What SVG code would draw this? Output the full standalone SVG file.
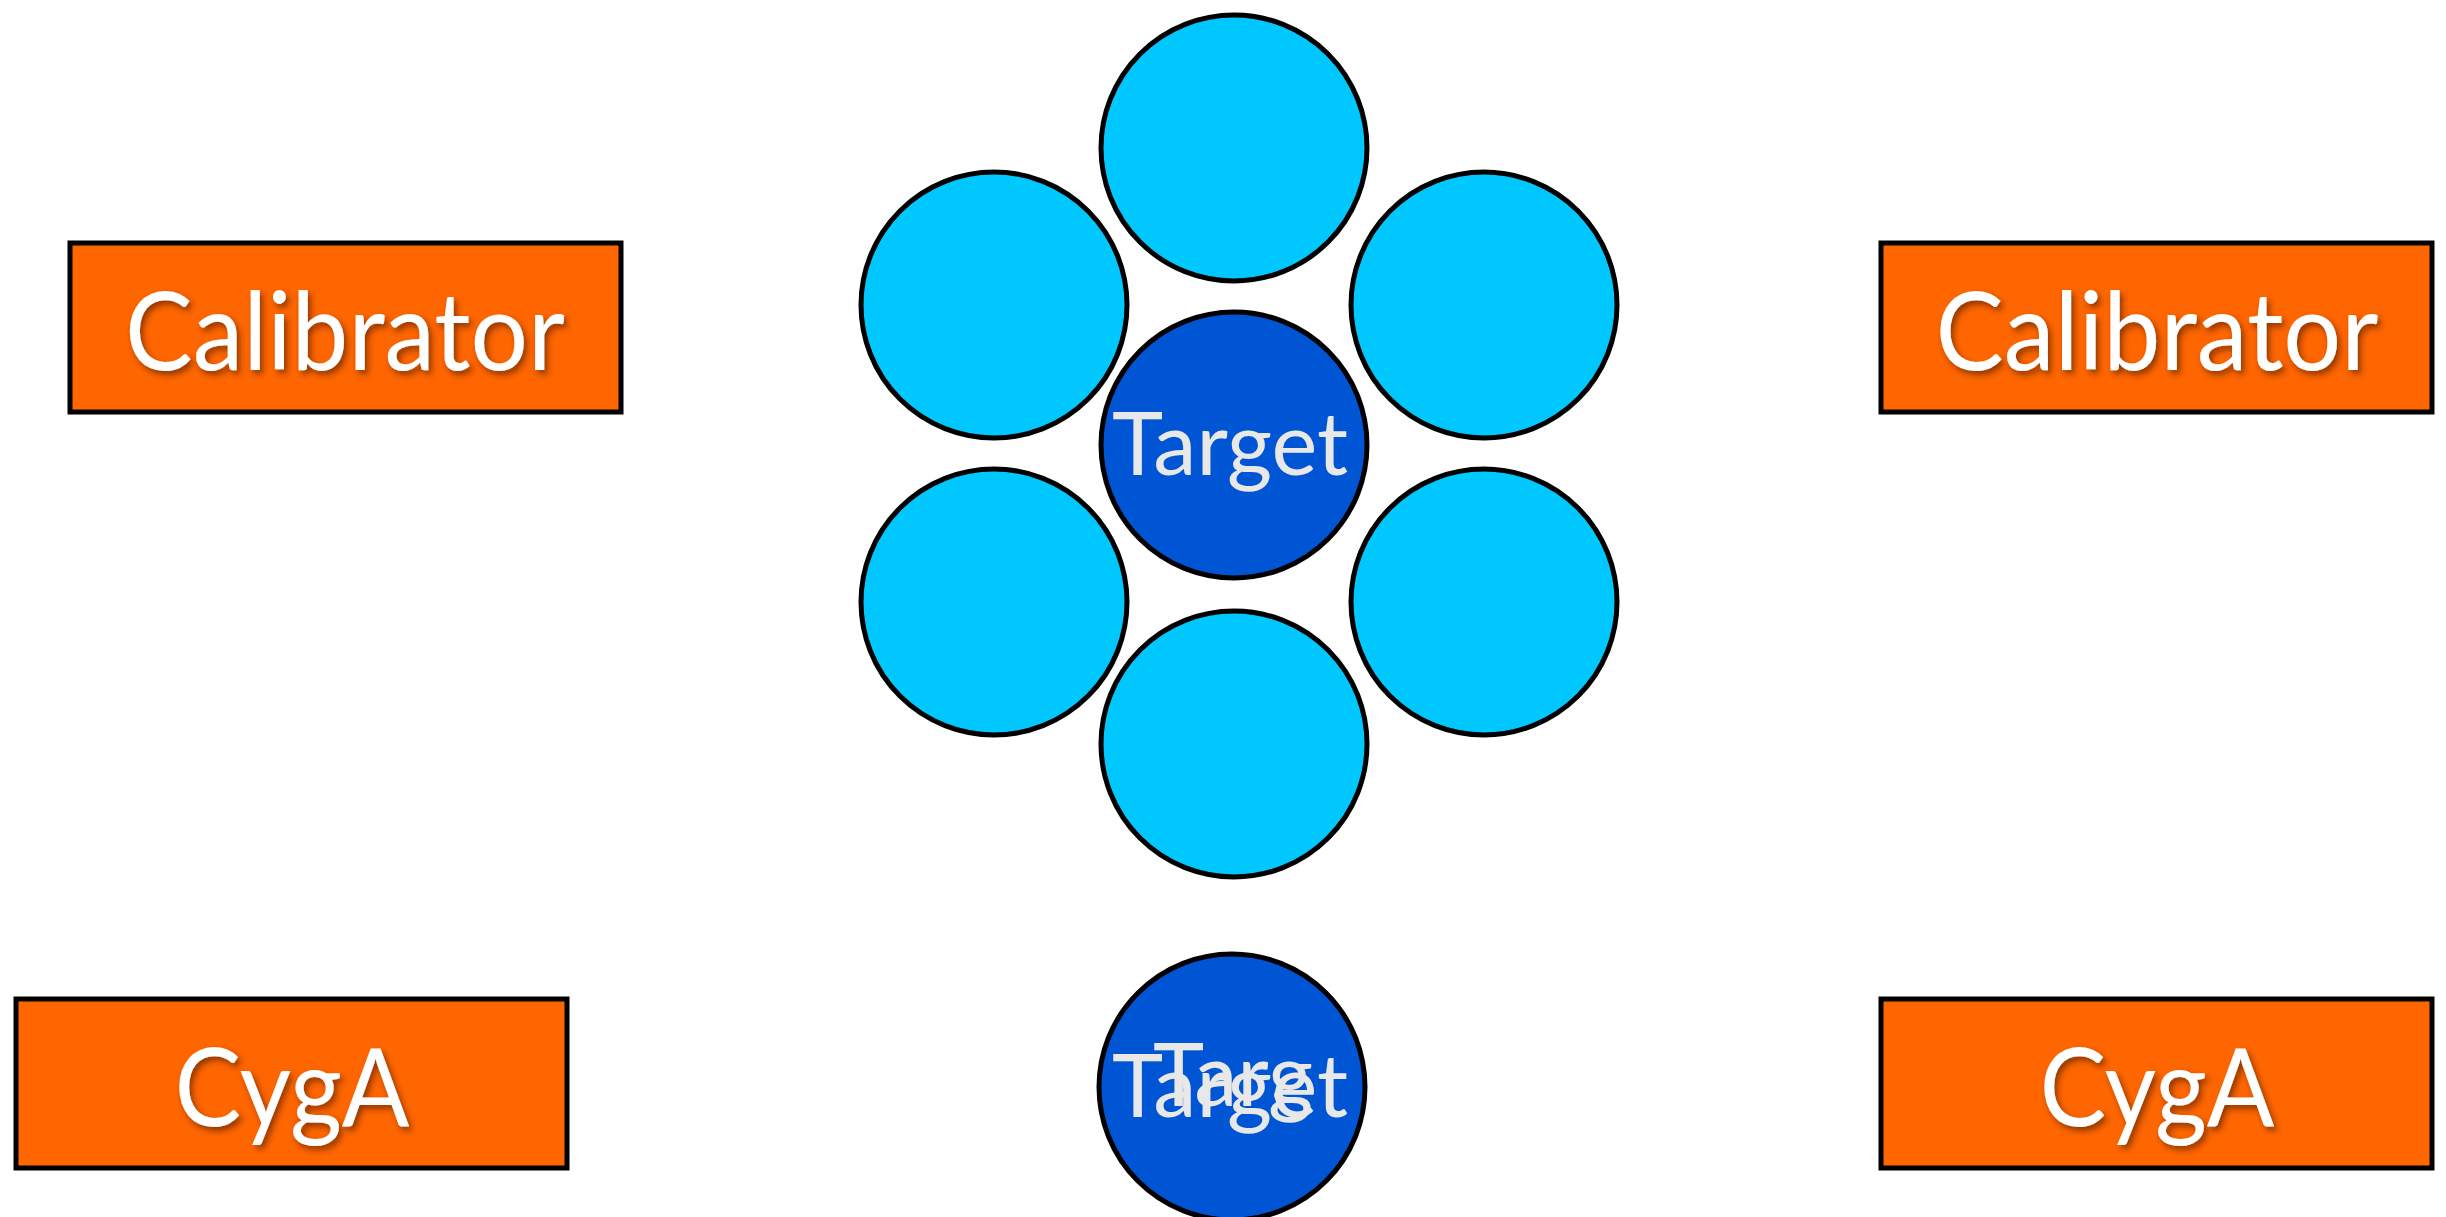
<svg xmlns="http://www.w3.org/2000/svg" width="2446" height="1217" viewBox="0 0 2446 1217">
<defs>
<filter id="sh" x="-10%" y="-20%" width="120%" height="150%">
<feDropShadow dx="3" dy="4" stdDeviation="3" flood-color="#602000" flood-opacity="0.7"/>
</filter>
</defs>
<style>
.box{fill:#FF6600;stroke:#000;stroke-width:5}
.lt{fill:#00C8FF;stroke:#000;stroke-width:5}
.dk{fill:#0055D4;stroke:#000;stroke-width:5}
.bt{font-family:Lato,"Open Sans","Liberation Sans",sans-serif;font-size:108px;fill:#fff;text-anchor:middle;filter:url(#sh)}
.tt{font-family:Lato,"Open Sans","Liberation Sans",sans-serif;font-size:88px;fill:#E8E8E8}
</style>
<rect width="2446" height="1217" fill="#fff"/>
<g id="connectors"></g>
<g id="cal-left"><rect class="box" x="70" y="243" width="551" height="169"/><text class="bt" x="345" y="370" textLength="440" lengthAdjust="spacingAndGlyphs">Calibrator</text></g>
<g id="cal-right"><rect class="box" x="1881" y="243" width="551" height="169"/><text class="bt" x="2157" y="370" textLength="443" lengthAdjust="spacingAndGlyphs">Calibrator</text></g>
<g id="cyga-left"><rect class="box" x="16" y="999" width="551" height="169"/><text class="bt" x="292" y="1126" textLength="235" lengthAdjust="spacingAndGlyphs">CygA</text></g>
<g id="cyga-right"><rect class="box" x="1881" y="999" width="551" height="169"/><text class="bt" x="2157" y="1126" textLength="235" lengthAdjust="spacingAndGlyphs">CygA</text></g>
<g id="c-top"><circle class="lt" cx="1234" cy="148" r="133"/></g>
<g id="c-ul"><circle class="lt" cx="994" cy="305" r="133"/></g>
<g id="c-ur"><circle class="lt" cx="1484" cy="305" r="133"/></g>
<g id="c-ll"><circle class="lt" cx="994" cy="602" r="133"/></g>
<g id="c-lr"><circle class="lt" cx="1484" cy="602" r="133"/></g>
<g id="c-bot"><circle class="lt" cx="1234" cy="744" r="133"/></g>
<g id="target-center"><circle class="dk" cx="1234" cy="445" r="133"/><text class="tt" x="1112" y="475" textLength="236" lengthAdjust="spacingAndGlyphs">Target</text></g>
<g id="target-bottom"><circle class="dk" cx="1232" cy="1087" r="133"/><text class="tt" x="1112" y="1117" textLength="236" lengthAdjust="spacingAndGlyphs">Target</text><text class="tt" x="1153" y="1106" textLength="160" lengthAdjust="spacingAndGlyphs">Targ</text></g>
</svg>
